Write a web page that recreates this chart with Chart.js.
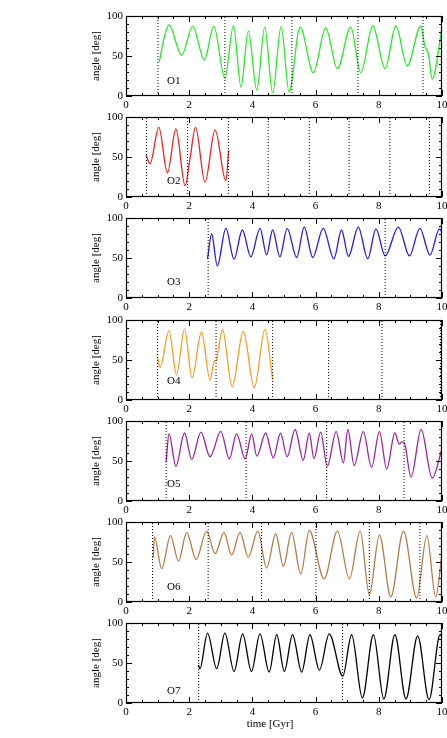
<!DOCTYPE html>
<html>
<head>
<meta charset="utf-8">
<script src="https://cdn.jsdelivr.net/npm/chart.js@4.4.0/dist/chart.umd.min.js"></script>
<style>
  html, body { margin: 0; padding: 0; background: #fff; }
  #wrap { position: relative; width: 447px; height: 738px; }
  canvas { position: absolute; left: 0; }
</style>
</head>
<body>
<div id="wrap"></div>
<script>
// O1
const o1Time = [1.05, 1.23, 1.36, 1.76, 2.11, 2.48, 2.78, 3.13, 3.40, 3.64, 3.87, 4.14, 4.39, 4.64, 4.91, 5.16, 5.51, 5.93, 6.32, 6.69, 7.11, 7.43, 7.81, 8.2, 8.54, 8.9, 9.33, 9.46, 9.57, 9.69, 10.0];
const o1Angle = [42, 76, 89, 51, 87, 45, 87, 22, 88, 11, 81, 7.5, 86, 4, 87, 5, 86, 29, 85, 34, 86, 29, 87.5, 34, 87.5, 37.5, 87.5, 62, 53, 21, 85];
const o1Marks = [1.01, 3.13, 5.25, 7.34, 9.40];

// O2
const o2Time = [0.63, 0.76, 1.04, 1.31, 1.58, 1.87, 2.03, 2.2, 2.5, 2.82, 3.16, 3.25];
const o2Angle = [52.5, 41.5, 87, 30, 85, 14, 49, 87, 18.6, 84, 20, 58.5];
const o2Marks = [0.65, 1.95, 3.24, 4.50, 5.80, 7.06, 8.35, 9.60];

// O3
const o3Time = [2.58, 2.71, 2.89, 3.16, 3.42, 3.68, 3.95, 4.24, 4.45, 4.64, 4.87, 5.1, 5.4, 5.64, 5.91, 6.24, 6.58, 6.82, 7.04, 7.35, 7.65, 7.91, 8.2, 8.62, 8.97, 9.3, 9.62, 9.92, 10.0];
const o3Angle = [49, 80, 40, 87, 48.5, 85, 51.5, 87, 54, 85, 51.5, 87, 50.6, 88.6, 50.6, 87, 49, 85, 52, 88.6, 49, 86.5, 52.7, 88.6, 52.7, 87, 53.6, 86.5, 82];
const o3Marks = [2.6, 8.2];

// O4
const o4Time = [1.0, 1.08, 1.36, 1.6, 1.85, 2.09, 2.39, 2.66, 2.79, 2.86, 2.93, 3.05, 3.36, 3.71, 4.06, 4.4, 4.64];
const o4Angle = [52.5, 40.7, 86.4, 31.4, 88.6, 28, 85, 25, 48.3, 50, 65, 88.6, 16.5, 85.6, 15.3, 88.6, 25];
const o4Marks = [1.0, 2.85, 4.64, 6.41, 8.1, 9.95];

// O5
const o5Time = [1.27, 1.36, 1.58, 1.85, 2.08, 2.37, 2.66, 3.0, 3.27, 3.5, 3.77, 3.98, 4.14, 4.42, 4.66, 4.89, 5.1, 5.35, 5.61, 5.8, 5.95, 6.16, 6.37, 6.65, 6.88, 7.02, 7.22, 7.51, 7.77, 8.02, 8.25, 8.51, 8.65, 8.72, 8.81, 9.02, 9.34, 9.69, 10.0];
const o5Angle = [48.5, 84, 43.4, 85, 52, 86, 55.3, 87, 52.8, 84, 52.8, 84, 56, 85, 54, 84.7, 55.3, 89.4, 51, 84.7, 52.8, 86, 43.4, 86.8, 47.7, 89.4, 44.3, 86.8, 42, 86.8, 40, 85, 71, 74, 72.3, 29.8, 89.4, 28.5, 65.5];
const o5Marks = [1.27, 3.8, 6.35, 8.8];

// O6
const o6Time = [0.86, 0.9, 1.13, 1.41, 1.66, 1.92, 2.22, 2.55, 2.82, 3.1, 3.34, 3.61, 3.87, 4.17, 4.45, 4.74, 4.98, 5.24, 5.53, 5.8, 6.27, 6.69, 7.07, 7.41, 7.7, 8.02, 8.38, 8.78, 9.2, 9.52, 9.8, 10.0];
const o6Angle = [55, 81, 41.7, 83, 51, 87, 53, 88.5, 60.4, 87, 58.7, 87, 56, 88.5, 42.5, 85, 44.7, 87, 35, 89.4, 29, 88.5, 29, 88.5, 9.4, 84, 6.4, 88.5, 5, 83, 6.4, 60];
const o6Marks = [0.84, 2.6, 4.29, 6.01, 7.7, 9.3];

// O7
const o7Time = [2.29, 2.34, 2.58, 2.87, 3.13, 3.42, 3.69, 3.97, 4.24, 4.53, 4.77, 5.01, 5.27, 5.56, 5.82, 6.12, 6.43, 6.86, 7.14, 7.48, 7.83, 8.16, 8.51, 8.86, 9.23, 9.59, 9.94, 10.0];
const o7Angle = [47.5, 43, 87.4, 43, 87.4, 39.5, 86.5, 39.5, 86.5, 38.7, 85.3, 39.5, 85.3, 38.7, 85.3, 41, 86.5, 33.6, 85.3, 6.3, 85.3, 5, 85.3, 5, 84, 4.2, 85.3, 83];
const o7Marks = [2.3, 6.85];

const xTicks = [0, 2, 4, 6, 8, 10];
const yTicks = [0, 50, 100];

const panels = [
  { name: "O1", time: o1Time, angle: o1Angle, marks: o1Marks, color: "#22ee22", labelY: 19 },
  { name: "O2", time: o2Time, angle: o2Angle, marks: o2Marks, color: "#ff1a1a", labelY: 20 },
  { name: "O3", time: o3Time, angle: o3Angle, marks: o3Marks, color: "#1a1aff", labelY: 20 },
  { name: "O4", time: o4Time, angle: o4Angle, marks: o4Marks, color: "#ff9922", labelY: 23 },
  { name: "O5", time: o5Time, angle: o5Angle, marks: o5Marks, color: "#a020a0", labelY: 21 },
  { name: "O6", time: o6Time, angle: o6Angle, marks: o6Marks, color: "#b87a45", labelY: 19 },
  { name: "O7", time: o7Time, angle: o7Angle, marks: o7Marks, color: "#000000", labelY: 15 }
];

const serif = "'Liberation Serif', 'DejaVu Serif', serif";
const plotBottoms = [96, 197, 298, 400, 501, 602, 703];
const plotH = 80;
const padTop = 10;

// inward ticks on all four sides, the frame and the panel name
const frameTicks = {
  id: "frameTicks",
  afterDraw(chart, args, opts) {
    const { ctx, chartArea: a, scales } = chart;
    const x = scales.x, y = scales.y;
    ctx.save();
    ctx.strokeStyle = "#000";
    ctx.lineWidth = 1;
    ctx.beginPath();
    for (let i = 0; i <= 20; i++) {
      const v = i * 0.5;
      const px = Math.round(x.getPixelForValue(v)) + 0.5;
      const len = i % 4 === 0 ? 6 : 3;
      ctx.moveTo(px, a.bottom); ctx.lineTo(px, a.bottom - len);
      ctx.moveTo(px, a.top); ctx.lineTo(px, a.top + len);
    }
    for (let i = 0; i <= 10; i++) {
      const v = i * 10;
      const py = Math.round(y.getPixelForValue(v)) + 0.5;
      const len = i % 5 === 0 ? 6 : 3;
      ctx.moveTo(a.left, py); ctx.lineTo(a.left + len, py);
      ctx.moveTo(a.right, py); ctx.lineTo(a.right - len, py);
    }
    ctx.stroke();
    ctx.lineWidth = 1.2;
    ctx.strokeRect(Math.round(a.left) + 0.5, Math.round(a.top) + 0.5, Math.round(a.width) - 1, Math.round(a.height) - 1);
    ctx.fillStyle = "#000";
    ctx.font = "11px " + serif;
    ctx.textBaseline = "middle";
    ctx.textAlign = "left";
    ctx.fillText(opts.label, x.getPixelForValue(1.3), y.getPixelForValue(opts.labelY));
    if (opts.xTitle) {
      ctx.textAlign = "center";
      ctx.fillText(opts.xTitle, 270, a.bottom + 21);
    }
    ctx.restore();
  }
};

const wrap = document.getElementById("wrap");

panels.forEach((p, idx) => {
  const last = idx === panels.length - 1;
  const xAxisH = last ? 32 : 20;
  const canvas = document.createElement("canvas");
  canvas.width = 447;
  canvas.height = padTop + plotH + xAxisH;
  canvas.style.top = (plotBottoms[idx] - plotH - padTop) + "px";
  wrap.appendChild(canvas);

  const curve = p.time.map((t, i) => ({ x: t, y: p.angle[i] }));
  const datasets = p.marks.map(m => ({
    data: [{ x: m, y: 0 }, { x: m, y: 100 }],
    borderColor: "#000",
    borderWidth: 1,
    borderDash: [1, 2],
    pointRadius: 0
  }));
  datasets.push({
    data: curve,
    borderColor: p.color,
    borderWidth: 1.3,
    pointRadius: 0,
    cubicInterpolationMode: "monotone"
  });

  new Chart(canvas.getContext("2d"), {
    type: "line",
    data: { datasets: datasets },
    options: {
      responsive: false,
      devicePixelRatio: 1,
      animation: false,
      layout: { padding: { top: padTop, right: 5, left: 0, bottom: 0 } },
      plugins: {
        legend: { display: false },
        tooltip: { enabled: false },
        frameTicks: { label: p.name, labelY: p.labelY, xTitle: last ? "time [Gyr]" : null }
      },
      scales: {
        x: {
          type: "linear",
          min: 0,
          max: 10,
          afterBuildTicks: s => { s.ticks = xTicks.map(v => ({ value: v })); },
          afterFit: s => { s.height = xAxisH; s.paddingLeft = 0; s.paddingRight = 0; },
          grid: { display: false, drawTicks: false },
          border: { display: false },
          ticks: { color: "#000", padding: 3, maxRotation: 0, autoSkip: false, font: { family: serif, size: 11 } }
        },
        y: {
          min: 0,
          max: 100,
          afterBuildTicks: s => { s.ticks = yTicks.map(v => ({ value: v })); },
          afterFit: s => { s.width = 126; s.paddingTop = 0; s.paddingBottom = 0; },
          grid: { display: false, drawTicks: false },
          border: { display: false },
          title: { display: true, text: "angle [deg]", color: "#000", padding: { top: 90, bottom: 0 }, font: { family: serif, size: 11 } },
          ticks: { color: "#000", padding: 3, font: { family: serif, size: 11 } }
        }
      }
    },
    plugins: [frameTicks]
  });
});
</script>
</body>
</html>
